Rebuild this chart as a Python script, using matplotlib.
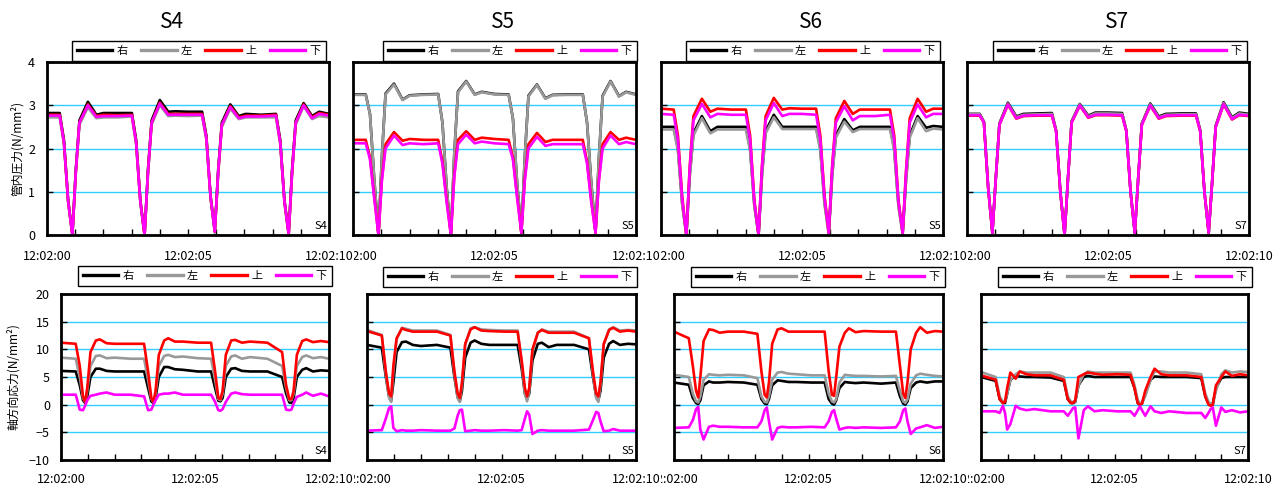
import matplotlib
matplotlib.use('Agg')
import matplotlib.pyplot as plt
from matplotlib.ticker import MultipleLocator

plt.rcParams['font.family'] = ['Noto Sans CJK JP', 'DejaVu Sans']

# time in seconds after 12:02:00
t_top = [0.0, 0.45, 0.6, 0.75, 0.9, 1.02, 1.15, 1.45, 1.75, 2.0, 2.5,
         3.01, 3.16, 3.31, 3.46, 3.58, 3.71, 4.0, 4.3, 4.55, 5.0,
         5.5, 5.65, 5.8, 5.95, 6.07, 6.2, 6.5, 6.8, 7.05, 7.6,
         8.12, 8.27, 8.42, 8.57, 8.69, 8.82, 9.1, 9.4, 9.65, 10.0]
t_bot = [0.0, 0.55, 0.7, 0.82, 0.9, 0.98, 1.1, 1.3, 1.45, 1.7, 2.0, 2.6,
         3.1, 3.25, 3.37, 3.45, 3.53, 3.65, 3.85, 4.0, 4.25, 4.55, 5.1,
         5.6, 5.75, 5.87, 5.95, 6.03, 6.15, 6.35, 6.5, 6.75, 7.05, 7.7,
         8.25, 8.4, 8.52, 8.6, 8.68, 8.8, 9.0, 9.15, 9.4, 9.7, 10.0]

labels = ['右', '左', '上', '下']
colors = ['#000000', '#999999', '#ff0000', '#ff00ff']
titles = ['S4', 'S5', 'S6', 'S7']
top_tags = ['S4', 'S5', 'S5', 'S7']
bot_tags = ['S4', 'S5', 'S6', 'S7']
xtick_labels = ['12:02:00', '12:02:05', '12:02:10']

# ---- pressure (top row) ----
s4_p_r = [2.82, 2.82, 2.2, 0.8, 0.02, 1.5, 2.65, 3.08, 2.78, 2.82, 2.82,
          2.82, 2.2, 0.8, 0.0, 1.5, 2.65, 3.12, 2.85, 2.86, 2.85,
          2.85, 2.3, 0.9, 0.1, 1.5, 2.6, 3.02, 2.75, 2.8, 2.78,
          2.8, 2.2, 0.8, 0.05, 1.5, 2.65, 3.05, 2.75, 2.85, 2.8]
s4_p_l = [2.72, 2.72, 2.1, 0.75, 0.0, 1.4, 2.55, 2.95, 2.7, 2.72, 2.72,
          2.74, 2.1, 0.75, 0.0, 1.4, 2.55, 3.0, 2.75, 2.76, 2.75,
          2.76, 2.2, 0.85, 0.05, 1.4, 2.5, 2.92, 2.68, 2.72, 2.72,
          2.72, 2.1, 0.75, 0.0, 1.4, 2.55, 2.98, 2.68, 2.75, 2.72]
s4_p_u = [2.78, 2.78, 2.15, 0.78, 0.0, 1.45, 2.6, 3.02, 2.75, 2.78, 2.77,
          2.78, 2.15, 0.78, 0.0, 1.45, 2.6, 3.06, 2.8, 2.8, 2.8,
          2.8, 2.25, 0.88, 0.08, 1.45, 2.55, 2.98, 2.72, 2.76, 2.76,
          2.78, 2.15, 0.78, 0.02, 1.45, 2.6, 3.02, 2.72, 2.82, 2.78]
s4_p_d = [2.76, 2.76, 2.15, 0.78, 0.0, 1.45, 2.6, 3.0, 2.73, 2.75, 2.75,
          2.76, 2.15, 0.78, 0.0, 1.45, 2.6, 3.04, 2.78, 2.78, 2.78,
          2.78, 2.25, 0.88, 0.08, 1.45, 2.55, 2.96, 2.7, 2.74, 2.74,
          2.76, 2.15, 0.78, 0.02, 1.45, 2.6, 3.0, 2.7, 2.8, 2.76]

s5_p_r = [3.25, 3.25, 2.8, 1.3, 0.0, 1.8, 3.27, 3.5, 3.13, 3.23, 3.25,
          3.26, 2.6, 1.1, 0.0, 1.9, 3.32, 3.56, 3.25, 3.31, 3.26,
          3.25, 2.7, 1.2, 0.05, 1.8, 3.22, 3.48, 3.16, 3.24, 3.25,
          3.25, 2.6, 1.2, 0.05, 1.8, 3.22, 3.56, 3.21, 3.31, 3.25]
s5_p_l = [3.24, 3.24, 2.8, 1.3, 0.0, 1.8, 3.25, 3.48, 3.12, 3.22, 3.24,
          3.25, 2.6, 1.1, 0.0, 1.9, 3.3, 3.55, 3.24, 3.3, 3.25,
          3.24, 2.7, 1.2, 0.05, 1.8, 3.2, 3.47, 3.15, 3.23, 3.24,
          3.24, 2.6, 1.2, 0.05, 1.8, 3.2, 3.55, 3.2, 3.3, 3.24]
s5_p_u = [2.2, 2.2, 1.8, 0.9, 0.0, 1.3, 2.1, 2.38, 2.18, 2.22, 2.2,
          2.2, 1.7, 0.8, 0.0, 1.4, 2.2, 2.4, 2.2, 2.25, 2.22,
          2.2, 1.8, 0.9, 0.05, 1.3, 2.1, 2.36, 2.15, 2.2, 2.2,
          2.2, 1.7, 0.8, 0.05, 1.3, 2.1, 2.38, 2.2, 2.25, 2.2]
s5_p_d = [2.12, 2.12, 1.75, 0.85, 0.0, 1.25, 2.0, 2.3, 2.08, 2.12, 2.1,
          2.12, 1.65, 0.75, 0.0, 1.35, 2.1, 2.32, 2.12, 2.16, 2.12,
          2.1, 1.75, 0.85, 0.05, 1.25, 2.0, 2.27, 2.06, 2.1, 2.1,
          2.1, 1.65, 0.75, 0.05, 1.25, 2.0, 2.3, 2.1, 2.15, 2.1]

s6_p_r = [2.5, 2.5, 2.0, 0.75, 0.0, 1.4, 2.35, 2.75, 2.4, 2.5, 2.5,
          2.5, 2.0, 0.7, 0.0, 1.4, 2.4, 2.78, 2.5, 2.5, 2.5,
          2.5, 2.0, 0.75, 0.05, 1.4, 2.3, 2.68, 2.42, 2.5, 2.5,
          2.5, 2.0, 0.7, 0.05, 1.3, 2.3, 2.75, 2.48, 2.52, 2.5]
s6_p_l = [2.44, 2.44, 1.95, 0.7, 0.0, 1.35, 2.3, 2.7, 2.35, 2.44, 2.44,
          2.44, 1.95, 0.65, 0.0, 1.35, 2.35, 2.72, 2.45, 2.45, 2.45,
          2.45, 1.95, 0.7, 0.0, 1.35, 2.25, 2.62, 2.38, 2.45, 2.45,
          2.45, 1.95, 0.65, 0.0, 1.25, 2.25, 2.7, 2.4, 2.46, 2.44]
s6_p_u = [2.92, 2.9, 2.3, 0.9, 0.0, 1.6, 2.75, 3.15, 2.85, 2.92, 2.9,
          2.9, 2.3, 0.8, 0.0, 1.6, 2.75, 3.17, 2.9, 2.93, 2.92,
          2.92, 2.3, 0.9, 0.05, 1.6, 2.7, 3.1, 2.8, 2.9, 2.9,
          2.9, 2.3, 0.8, 0.05, 1.5, 2.7, 3.15, 2.85, 2.92, 2.92]
s6_p_d = [2.8, 2.78, 2.2, 0.85, 0.0, 1.55, 2.65, 3.03, 2.72, 2.8, 2.78,
          2.78, 2.2, 0.78, 0.0, 1.55, 2.65, 3.05, 2.75, 2.8, 2.8,
          2.78, 2.2, 0.85, 0.05, 1.55, 2.6, 2.98, 2.65, 2.75, 2.75,
          2.78, 2.2, 0.78, 0.05, 1.45, 2.6, 3.02, 2.72, 2.8, 2.8]

s7_p_r = [2.8, 2.8, 2.62, 1.1, 0.05, 1.3, 2.58, 3.06, 2.74, 2.8, 2.81,
          2.82, 2.42, 1.0, 0.0, 1.3, 2.63, 3.03, 2.76, 2.83, 2.83,
          2.82, 2.42, 1.0, 0.05, 1.3, 2.58, 3.04, 2.74, 2.8, 2.81,
          2.81, 2.42, 1.0, 0.05, 1.2, 2.53, 3.07, 2.72, 2.83, 2.8]
s7_p_l = [2.79, 2.79, 2.61, 1.1, 0.05, 1.3, 2.57, 3.04, 2.72, 2.78, 2.79,
          2.8, 2.41, 1.0, 0.0, 1.3, 2.62, 3.02, 2.74, 2.81, 2.81,
          2.8, 2.41, 1.0, 0.05, 1.3, 2.57, 3.02, 2.72, 2.78, 2.79,
          2.79, 2.41, 1.0, 0.05, 1.2, 2.52, 3.05, 2.7, 2.81, 2.78]
s7_p_u = [2.76, 2.76, 2.6, 1.1, 0.05, 1.3, 2.55, 3.01, 2.69, 2.75, 2.76,
          2.76, 2.4, 1.0, 0.0, 1.3, 2.6, 2.99, 2.71, 2.77, 2.77,
          2.76, 2.4, 1.0, 0.05, 1.3, 2.55, 2.99, 2.69, 2.75, 2.76,
          2.76, 2.4, 1.0, 0.05, 1.2, 2.5, 3.02, 2.67, 2.77, 2.75]
s7_p_d = [2.77, 2.77, 2.6, 1.1, 0.05, 1.3, 2.55, 3.02, 2.7, 2.76, 2.77,
          2.77, 2.4, 1.0, 0.0, 1.3, 2.6, 3.0, 2.72, 2.78, 2.78,
          2.77, 2.4, 1.0, 0.05, 1.3, 2.55, 3.0, 2.7, 2.76, 2.77,
          2.77, 2.4, 1.0, 0.05, 1.2, 2.5, 3.03, 2.68, 2.78, 2.76]

# ---- axial stress (bottom row) ----
s4_a_r = [6.1, 6.0, 3.5, 0.8, 0.3, 1.5, 5.0, 6.5, 6.5, 6.1, 6.0, 6.0,
          6.0, 3.0, 0.6, 0.3, 1.2, 5.0, 6.8, 6.8, 6.4, 6.3, 6.0,
          6.0, 3.0, 0.7, 0.6, 1.2, 5.0, 6.5, 6.6, 6.1, 6.0, 6.0,
          5.0, 2.0, 0.4, 0.3, 1.2, 5.0, 6.3, 6.6, 6.0, 6.2, 6.1]
s4_a_l = [8.5, 8.3, 5.0, 1.2, 0.5, 2.5, 7.0, 8.8, 8.9, 8.4, 8.5, 8.3,
          8.3, 4.5, 1.0, 0.5, 2.0, 7.0, 8.8, 9.0, 8.6, 8.7, 8.4,
          8.3, 4.5, 1.0, 0.8, 2.0, 7.0, 8.7, 8.9, 8.3, 8.6, 8.3,
          7.0, 3.0, 0.8, 0.8, 2.0, 7.0, 8.6, 8.9, 8.4, 8.6, 8.3]
s4_a_u = [11.2, 11.0, 7.0, 1.5, 0.5, 3.0, 9.5, 11.6, 11.8, 11.1, 11.0, 11.0,
          11.0, 6.0, 1.2, 0.5, 2.5, 9.0, 11.6, 12.0, 11.4, 11.4, 11.2,
          11.2, 6.0, 1.2, 1.0, 2.5, 9.0, 11.6, 11.7, 11.2, 11.4, 11.2,
          9.5, 3.5, 1.0, 1.0, 2.5, 9.0, 11.5, 11.8, 11.3, 11.5, 11.3]
s4_a_d = [1.8, 1.8, -0.9, -1.0, -0.2, 0.8, 1.6, 1.8, 2.0, 2.2, 1.8, 1.8,
          1.5, -1.0, -0.9, 0.0, 0.8, 1.8, 2.0, 2.0, 2.2, 1.8, 1.8,
          1.8, 0.5, -1.0, -1.1, -0.8, 0.5, 2.0, 2.2, 1.9, 1.8, 1.8,
          1.8, -0.9, -1.0, -0.9, 0.2, 1.4, 1.8, 2.2, 1.6, 2.0, 1.5]

s5_a_r = [10.8, 10.3, 5.0, 1.5, 0.8, 4.0, 9.5, 11.3, 11.4, 10.8, 10.6, 10.8,
          10.3, 5.0, 1.3, 0.6, 2.5, 8.5, 11.2, 11.6, 11.0, 10.8, 10.8,
          10.8, 6.5, 2.0, 1.0, 2.0, 8.0, 11.0, 11.2, 10.4, 10.8, 10.8,
          10.0, 5.0, 1.5, 0.8, 2.5, 8.5, 11.0, 11.5, 10.8, 11.0, 10.9]
s5_a_l = [13.5, 12.6, 5.5, 1.2, 0.5, 6.0, 11.8, 13.9, 13.7, 13.4, 13.4, 13.4,
          12.6, 5.5, 1.2, 0.5, 3.5, 10.8, 13.8, 14.0, 13.6, 13.5, 13.4,
          13.4, 7.5, 2.0, 0.6, 2.5, 9.5, 13.0, 13.6, 13.2, 13.2, 13.2,
          12.0, 5.5, 1.2, 0.5, 3.5, 10.8, 13.6, 14.0, 13.4, 13.5, 13.4]
s5_a_u = [13.3, 12.5, 6.0, 2.0, 1.5, 7.0, 12.0, 13.8, 13.5, 13.2, 13.2, 13.2,
          12.5, 6.0, 2.0, 1.2, 4.0, 11.0, 13.6, 14.0, 13.4, 13.3, 13.2,
          13.2, 8.0, 3.0, 1.5, 3.0, 10.0, 13.0, 13.5, 13.0, 13.0, 13.0,
          12.0, 6.0, 2.0, 1.5, 4.0, 11.0, 13.5, 13.9, 13.2, 13.4, 13.2]
s5_a_d = [-4.7, -4.6, -2.5, -0.6, -0.3, -4.2, -4.8, -4.6, -4.7, -4.7, -4.6, -4.7,
          -4.7, -4.3, -2.0, -1.0, -0.9, -4.8, -4.7, -4.6, -4.7, -4.7, -4.6,
          -4.7, -4.6, -2.5, -1.2, -1.8, -5.3, -4.7, -4.6, -4.7, -4.7, -4.7,
          -4.5, -2.8, -1.3, -1.5, -3.0, -4.8, -4.7, -4.4, -4.7, -4.7, -4.7]

s6_a_r = [4.0, 3.6, 1.2, 0.3, 0.1, 0.8, 3.5, 4.2, 4.0, 4.0, 4.1, 4.0,
          3.6, 1.0, 0.2, 0.1, 1.0, 3.5, 4.4, 4.3, 4.1, 4.1, 4.0,
          4.0, 1.0, 0.2, 0.0, 0.8, 3.0, 4.1, 4.0, 3.9, 4.0, 3.8,
          4.0, 1.5, 0.2, 0.0, 0.6, 3.0, 4.0, 4.2, 4.0, 4.2, 4.2]
s6_a_l = [5.4, 5.0, 2.0, 0.6, 0.4, 1.5, 4.5, 5.5, 5.4, 5.3, 5.4, 5.3,
          4.8, 1.5, 0.5, 0.4, 1.5, 4.5, 5.8, 5.9, 5.6, 5.5, 5.3,
          5.3, 2.0, 0.6, 0.4, 1.0, 4.0, 5.4, 5.3, 5.2, 5.2, 5.1,
          5.2, 2.5, 0.6, 0.3, 1.0, 3.8, 5.3, 5.6, 5.4, 5.2, 5.1]
s6_a_u = [13.2, 12.0, 7.0, 2.5, 1.3, 5.0, 11.5, 13.6, 13.5, 13.0, 13.2, 13.2,
          12.8, 6.0, 1.8, 1.3, 4.0, 11.0, 13.6, 13.8, 13.2, 13.2, 13.2,
          13.2, 6.0, 1.8, 1.6, 5.0, 10.5, 13.0, 13.8, 13.1, 13.3, 13.2,
          13.2, 7.0, 2.0, 1.2, 4.0, 10.0, 13.0, 14.0, 13.0, 13.3, 13.2]
s6_a_d = [-4.2, -4.1, -2.8, -0.8, -0.4, -4.5, -6.3, -4.0, -3.8, -4.0, -4.0, -4.1,
          -4.1, -3.0, -1.0, -0.5, -3.0, -6.3, -4.2, -4.0, -4.1, -4.1, -4.0,
          -4.1, -3.0, -1.3, -1.0, -2.5, -4.5, -4.2, -4.1, -4.2, -4.1, -4.2,
          -4.1, -3.0, -1.0, -0.7, -3.0, -5.3, -4.3, -4.1, -3.7, -4.2, -4.0]

s7_a_r = [5.0, 4.3, 1.0, 0.3, 0.3, 2.0, 4.5, 5.2, 5.1, 5.0, 5.0, 4.9,
          4.3, 1.0, 0.3, 0.3, 0.5, 3.5, 5.0, 5.2, 5.0, 5.0, 5.0,
          5.0, 3.0, 0.3, 0.0, 0.2, 2.0, 4.5, 5.1, 5.0, 5.0, 5.0,
          4.8, 1.5, 0.2, -0.1, 0.0, 3.0, 4.8, 5.0, 5.0, 5.0, 5.0]
s7_a_l = [5.9, 5.0, 1.5, 0.5, 0.6, 2.0, 4.5, 5.5, 6.0, 5.8, 5.8, 5.8,
          5.0, 1.5, 0.5, 0.5, 0.6, 3.5, 5.5, 6.0, 5.8, 5.8, 5.8,
          5.8, 3.5, 0.8, 0.3, 0.3, 1.5, 4.5, 6.0, 6.0, 5.8, 5.8,
          5.5, 2.0, 0.5, 0.2, 0.3, 2.5, 5.5, 6.2, 5.8, 6.0, 5.9]
s7_a_u = [5.3, 4.5, 1.0, 0.3, 0.5, 3.0, 5.8, 4.7, 6.0, 5.5, 5.3, 5.3,
          4.5, 1.0, 0.3, 0.3, 0.8, 5.0, 5.5, 5.8, 5.6, 5.4, 5.5,
          5.4, 3.0, 0.3, 0.0, 0.2, 2.5, 5.0, 6.5, 5.5, 5.3, 5.3,
          5.0, 1.5, 0.0, -0.2, 0.0, 3.5, 5.0, 6.0, 5.2, 5.5, 5.3]
s7_a_d = [-1.2, -1.2, -1.5, -0.2, -1.5, -4.5, -3.5, -0.2, -0.7, -1.0, -0.8, -1.2,
          -1.2, -2.0, -1.2, -0.6, -0.5, -6.1, -1.0, -0.3, -1.2, -1.0, -1.2,
          -1.2, -2.0, -1.0, -0.3, -1.0, -2.0, -0.3, -1.2, -1.5, -1.2, -1.5,
          -1.5, -2.4, -1.5, -0.8, -0.5, -3.8, -0.5, -1.3, -1.0, -1.4, -1.2]

top_series = [[s4_p_r, s4_p_l, s4_p_u, s4_p_d],
              [s5_p_r, s5_p_l, s5_p_u, s5_p_d],
              [s6_p_r, s6_p_l, s6_p_u, s6_p_d],
              [s7_p_r, s7_p_l, s7_p_u, s7_p_d]]
bot_series = [[s4_a_r, s4_a_l, s4_a_u, s4_a_d],
              [s5_a_r, s5_a_l, s5_a_u, s5_a_d],
              [s6_a_r, s6_a_l, s6_a_u, s6_a_d],
              [s7_a_r, s7_a_l, s7_a_u, s7_a_d]]

W, H = 1279, 486
fig = plt.figure(figsize=(W / 100, H / 100), dpi=100)


def box(x0, y0, x1, y1):
    return [x0 / W, 1 - y1 / H, (x1 - x0) / W, (y1 - y0) / H]


top_boxes = [(47, 62, 329, 235), (353, 62, 636, 235), (661, 62, 943, 235), (967, 62, 1249, 235)]
bot_boxes = [(61, 294, 329, 460), (367, 294, 636, 460), (674, 294, 943, 460), (981, 294, 1248, 460)]
top_leg = [(326, 61), (637, 61), (940, 61), (1247, 61)]
bot_leg = [(332, 286), (637, 287), (945, 287), (1252, 287)]
title_x = [172, 503, 811, 1117]


def draw(ax, t, series, ylim, yticks, tag, leg_pos, show_y, xpad, ypad):
    lines = []
    for vals, lab, col in zip(series, labels, colors):
        ln, = ax.plot(t, vals, color=col, lw=1.9, label=lab, solid_joinstyle='round')
        lines.append(ln)
    ax.set_xlim(0, 10)
    ax.set_ylim(*ylim)
    ax.set_yticks(yticks)
    ax.set_xticks([0, 5, 10])
    ax.set_xticklabels(xtick_labels)
    ax.xaxis.set_minor_locator(MultipleLocator(1))
    ax.yaxis.grid(True, color='#33ccff', lw=1)
    ax.tick_params(axis='both', which='both', direction='in', length=4, width=1,
                   labelsize=9, top=False, right=False)
    ax.tick_params(axis='x', pad=xpad)
    ax.tick_params(axis='y', pad=ypad, labelleft=show_y)
    for lbl in ax.get_xticklabels():
        lbl.set_bbox(dict(facecolor='white', edgecolor='none', pad=0.5))
    for s in ax.spines.values():
        s.set_linewidth(2)
    ax.text(0.993, 0.025, tag, transform=ax.transAxes, ha='right', va='bottom', fontsize=8)
    leg = ax.legend(lines, labels, loc='lower right', ncol=4,
                    bbox_to_anchor=(leg_pos[0] / W, 1 - leg_pos[1] / H),
                    bbox_transform=fig.transFigure, borderaxespad=0,
                    frameon=True, fancybox=False, edgecolor='black', framealpha=1,
                    fontsize=8, handlelength=3.2, handletextpad=0.4,
                    columnspacing=1.2, borderpad=0.45)
    leg.get_frame().set_linewidth(1)
    for ln in leg.get_lines():
        ln.set_linewidth(2.4)


for i in range(4):
    ax = fig.add_axes(box(*top_boxes[i]))
    ax.set_zorder(10 - i)
    draw(ax, t_top, top_series[i], (0, 4), [0, 1, 2, 3, 4], top_tags[i], top_leg[i], i == 0, 10.5, 8.5)
    ax2 = fig.add_axes(box(*bot_boxes[i]))
    ax2.set_zorder(10 - i)
    draw(ax2, t_bot, bot_series[i], (-10, 20), [-10, -5, 0, 5, 10, 15, 20], bot_tags[i], bot_leg[i], i == 0, 9.5, 8)
    fig.text(title_x[i] / W, 1 - 22 / H, titles[i], ha='center', va='center', fontsize=15)

fig.text(17 / W, 1 - 148 / H, '管内圧力(N/mm²)', rotation=90, ha='center', va='center', fontsize=8.5)
fig.text(13 / W, 1 - 377 / H, '軸方向応力(N/mm²)', rotation=90, ha='center', va='center', fontsize=8.5)

fig.savefig('out.png', dpi=100)
